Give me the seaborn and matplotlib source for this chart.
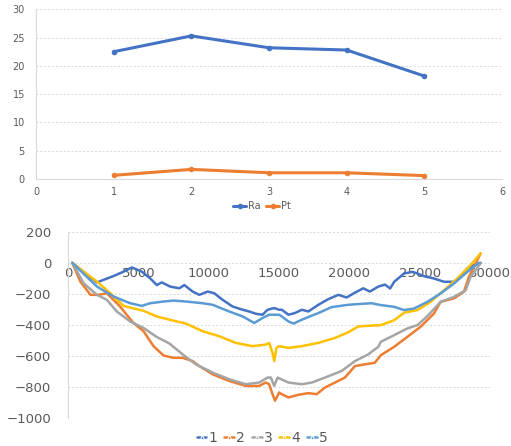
import numpy as np
import pandas as pd
import matplotlib
matplotlib.use("Agg")
import matplotlib.pyplot as plt
import seaborn as sns

# ---------------- data: top chart ----------------
top_x = [1, 2, 3, 4, 5]
ra = [22.5, 25.3, 23.2, 22.8, 18.2]
pt = [0.65, 1.7, 1.1, 1.1, 0.6]

# ---------------- data: bottom chart (profiles) ----------------
x1 = [300, 1200, 2060, 3240, 3950, 4540, 5250, 5840, 6310, 6670, 7260, 7920, 8270, 8860, 9330,
      9930, 10400, 10990, 11700, 12420, 12880, 13360, 13830, 14190, 14660, 15010, 15200, 15670,
      16140, 16620, 17090, 17800, 18500, 19220, 19810, 20400, 20990, 21460, 22060, 22530, 22900,
      23190, 23890, 24480, 24840, 25310, 26020, 26730, 27440, 27910, 28390, 28860, 29330]
y1 = [0, -65, -126, -85, -57, -30, -57, -100, -143, -126, -153, -164, -143, -185, -206,
      -185, -196, -238, -281, -302, -313, -328, -334, -302, -291, -302, -302, -334,
      -323, -302, -313, -270, -234, -206, -223, -192, -164, -185, -153, -140, -165,
      -122, -69, -58, -69, -86, -101, -122, -122, -90, -36, -15, 0]

x2 = [300, 880, 1600, 2170, 2760, 3700, 4650, 5370, 6080, 6790, 7490, 8150, 8860, 9330, 10280,
      11460, 12650, 13590, 14060, 14300, 14540, 14720, 15010, 15200, 15670, 16380, 17090, 17680,
      18270, 18980, 19690, 20400, 21110, 21810, 22240, 23190, 24130, 25070, 26020, 26490, 27440,
      28150, 28500, 28980, 29330]
y2 = [0, -121, -206, -206, -196, -281, -387, -440, -536, -596, -611, -611, -632, -664, -717,
      -760, -792, -792, -770, -781, -845, -887, -834, -845, -866, -849, -838, -845,
      -802, -770, -738, -664, -653, -643, -594, -540, -476, -411, -326, -251, -229,
      -186, -90, -4, 60]

x3 = [300, 1110, 2060, 2760, 3470, 4420, 5370, 6310, 7210, 8150, 9090, 10280, 11460, 12650, 13590,
      14190, 14420, 14660, 14900, 15670, 16620, 17330, 18270, 19450, 20400, 21340, 22060, 22240,
      23190, 24130, 24840, 25550, 26490, 27440, 28270, 28620, 29330]
y3 = [0, -132, -206, -238, -313, -377, -419, -477, -519, -589, -653, -706, -749, -781, -770,
      -738, -738, -792, -738, -770, -781, -770, -738, -696, -632, -589, -540, -508,
      -465, -422, -401, -343, -251, -219, -176, -90, -4]

x4 = [300, 1110, 2060, 3000, 3950, 5370, 6310, 7490, 8390, 9570, 10750, 11930, 13110, 14060, 14300,
      14540, 14660, 14820, 15010, 15670, 16620, 17800, 18980, 19920, 20640, 21580, 22240, 23190,
      23890, 24840, 25780, 26730, 27670, 28620, 29330]
y4 = [0, -57, -121, -195, -277, -309, -345, -372, -391, -440, -472, -515, -536, -526, -515,
      -579, -632, -547, -536, -547, -536, -515, -483, -447, -409, -404, -401, -369,
      -321, -304, -251, -176, -101, -15, 60]

x5 = [300, 2060, 3240, 4420, 5250, 5840, 6790, 7490, 8390, 9570, 10280, 11460, 12420, 13240, 13830,
      14300, 15010, 15200, 15670, 16030, 16620, 17800, 18740, 19920, 20870, 21580, 22240, 23190,
      23890, 24600, 25550, 26490, 27440, 28390, 29210]
y5 = [0, -153, -217, -260, -277, -260, -249, -243, -249, -260, -270, -313, -345, -387, -355,
      -334, -334, -345, -377, -391, -366, -323, -285, -270, -264, -260, -272, -283,
      -304, -294, -251, -197, -133, -58, 0]

series_names = ["1", "2", "3", "4", "5"]
colors = ["#4472C4", "#ED7D31", "#A5A5A5", "#FFC000", "#5B9BD5"]

# ---------------- build frames ----------------
top_df = pd.DataFrame({
    "x": top_x + top_x,
    "y": ra + pt,
    "s": ["Ra"] * len(ra) + ["Pt"] * len(pt),
})
parts = []
for name, xs, ys in zip(series_names, [x1, x2, x3, x4, x5], [y1, y2, y3, y4, y5]):
    parts.append(pd.DataFrame({"x": xs, "y": ys, "s": name}))
bot_df = pd.concat(parts, ignore_index=True)

sns.set_style("white")
plt.rcParams["font.family"] = ["DejaVu Sans"]

W, H = 511, 446
fig = plt.figure(figsize=(W / 100, H / 100), dpi=100)
tick_col = "#595959"
grid_col = "#d9d9d9"

# ---------------- top axes ----------------
ax1 = fig.add_axes([36 / W, 1 - 179 / H, (502 - 36) / W, (179 - 9.3) / H])
sns.lineplot(data=top_df, x="x", y="y", hue="s", palette=["#4472C4", "#ED7D31"],
             marker="o", markersize=4, markeredgewidth=0, linewidth=2.2,
             estimator=None, ax=ax1, legend=True)
ax1.set_xlim(0, 6)
ax1.set_ylim(0, 30)
ax1.set_xticks(range(0, 7))
ax1.set_yticks(range(0, 31, 5))
ax1.set_xlabel("")
ax1.set_ylabel("")
ax1.grid(axis="y", color=grid_col, linestyle=(0, (2, 2)), linewidth=0.7)
ax1.set_axisbelow(True)
for sp in ["top", "right"]:
    ax1.spines[sp].set_visible(False)
ax1.spines["left"].set_color(grid_col)
ax1.spines["bottom"].set_color(grid_col)
ax1.tick_params(axis="both", length=0, labelsize=7, colors=tick_col)
ax1.tick_params(axis="y", pad=8)
ax1.tick_params(axis="x", pad=6)
h, l = ax1.get_legend_handles_labels()
ax1.legend(h, l, loc="center", bbox_to_anchor=(262 / W, 1 - 206 / H),
           bbox_transform=fig.transFigure, ncol=2, frameon=False, fontsize=7,
           handlelength=1.3, handletextpad=0.2, columnspacing=0.6, labelcolor=tick_col)

# ---------------- bottom axes ----------------
ax2 = fig.add_axes([68 / W, 1 - 418.3 / H, (490 - 68) / W, (418.3 - 231.7) / H])
sns.lineplot(data=bot_df, x="x", y="y", hue="s", palette=colors,
             linewidth=1.8, estimator=None, sort=False, ax=ax2, legend=True)
ax2.set_xlim(0, 30000)
ax2.set_ylim(-1000, 200)
ax2.set_xticks(range(0, 30001, 5000))
ax2.set_yticks(range(-1000, 201, 200))
ax2.set_xlabel("")
ax2.set_ylabel("")
ax2.grid(axis="y", color=grid_col, linestyle=(0, (2, 2)), linewidth=0.7)
ax2.set_axisbelow(True)
for sp in ["top", "right"]:
    ax2.spines[sp].set_visible(False)
ax2.spines["left"].set_color(grid_col)
ax2.spines["bottom"].set_position(("data", 0))
ax2.spines["bottom"].set_visible(False)
ax2.tick_params(axis="both", length=0, labelsize=9.5, colors=tick_col)
ax2.tick_params(axis="y", pad=12)
ax2.tick_params(axis="x", pad=3)
h, l = ax2.get_legend_handles_labels()
for hh in h:
    hh.set_marker("^")
    hh.set_markersize(3)
ax2.legend(h, l, loc="center", bbox_to_anchor=(262 / W, 1 - 438 / H),
           bbox_transform=fig.transFigure, ncol=5, frameon=False, fontsize=10,
           handlelength=0.7, handletextpad=0.15, columnspacing=0.5, labelcolor=tick_col)

fig.savefig("out.png", dpi=100)
